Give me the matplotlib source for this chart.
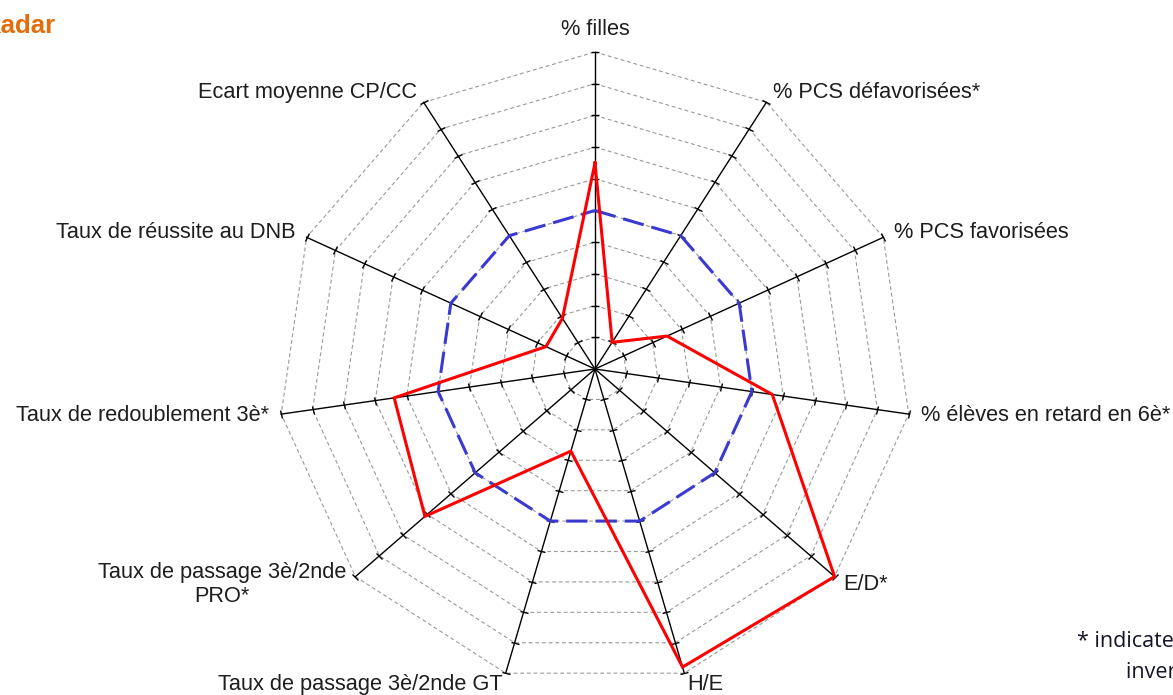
import numpy as np
import matplotlib
matplotlib.use("Agg")
import matplotlib.pyplot as plt
from matplotlib.markers import MarkerStyle
from matplotlib.transforms import Affine2D

# ---------------- data ----------------
categories = [
    "% filles",
    "% PCS défavorisées*",
    "% PCS favorisées",
    "% élèves en retard en 6è*",
    "E/D*",
    "H/E",
    "Taux de passage 3è/2nde GT",
    "Taux de passage 3è/2nde\nPRO*",
    "Taux de redoublement 3è*",
    "Taux de réussite au DNB",
    "Ecart moyenne CP/CC",
]
etablissement = [0.65, 0.10, 0.25, 0.565, 1.0, 0.98, 0.27, 0.71, 0.64, 0.17, 0.19]
reference = [0.5, 0.5, 0.5, 0.5, 0.5, 0.5, 0.5, 0.5, 0.5, 0.5, 0.5]
ring_levels = [0.1, 0.2, 0.3, 0.4, 0.5, 0.6, 0.7, 0.8, 0.9, 1.0]
title_text = "Radar"
footnote_lines = ["* indicates variables with", "inverted scale"]

# ---------------- figure ----------------
W, H = 1173, 695
fig = plt.figure(figsize=(W / 100, H / 100), dpi=100)
fig.patch.set_facecolor("white")

cx, cy, R = 595, 369, 317  # centre / radius in pixels
ax = fig.add_axes([(cx - R) / W, (H - cy - R) / H, 2 * R / W, 2 * R / H],
                  projection="polar")
ax.set_theta_zero_location("N")
ax.set_theta_direction(-1)
ax.set_ylim(0, 1)
ax.grid(False)
ax.set_xticks([])
ax.set_yticks([])
ax.spines["polar"].set_visible(False)
ax.patch.set_alpha(0)

n = len(categories)
theta = np.arange(n) * 2 * np.pi / n
theta_closed = np.append(theta, theta[0])

# dashed polygon grid
for lvl in ring_levels:
    ax.plot(theta_closed, [lvl] * (n + 1), color="#9a9a9a", lw=0.8,
            ls=(0, (3.5, 2.5)), zorder=1, clip_on=False)

# spokes with tick marks
for t in theta:
    ax.plot([t, t], [0, ring_levels[-1]], color="black", lw=1.0, zorder=2,
            clip_on=False)
    mk = MarkerStyle("_", transform=Affine2D().rotate_deg(-np.degrees(t)))
    ax.plot([t] * len(ring_levels), ring_levels, ls="none", marker=mk,
            ms=6.3, mew=1.0, color="black", zorder=2, clip_on=False)

# series
ax.plot(theta_closed, reference + reference[:1], color="#3a3ad0", lw=2.2,
        dashes=(7, 2.6), zorder=3, clip_on=False)
ax.plot(theta_closed, etablissement + etablissement[:1], color="#ff0000",
        lw=2.2, zorder=4, clip_on=False, solid_joinstyle="miter")

# category labels
pad = 12
for t, lab in zip(theta, categories):
    s, c = np.sin(t), np.cos(t)
    if s > 0.1:
        ha = "left"
    elif s < -0.1:
        ha = "right"
    else:
        ha = "center"
    va = "bottom" if c > 0.95 else "center"
    ax.annotate(lab, xy=(t, 1.0), xytext=(pad * s, pad * c),
                textcoords="offset pixels", ha=ha, va=va,
                multialignment="center", fontsize=15.7,
                family="Liberation Sans", color="#1e1e1e",
                annotation_clip=False)

# title (partly outside the canvas, as in the reference)
fig.text(-18 / W, 1 - 33 / H, title_text, color="#E46C0A", fontsize=18.5,
         fontweight="bold", family="Liberation Sans", va="baseline",
         ha="left")

# footnote (cut by the right edge, as in the reference)
fig.text(1077 / W, 1 - 647 / H, footnote_lines[0], fontsize=15.5,
         family="Open Sans", color="#141428", va="baseline", ha="left")
fig.text(1126 / W, 1 - 678 / H, footnote_lines[1], fontsize=15.5,
         family="Open Sans", color="#141428", va="baseline", ha="left")

fig.savefig("out.png", dpi=100, facecolor="white")
